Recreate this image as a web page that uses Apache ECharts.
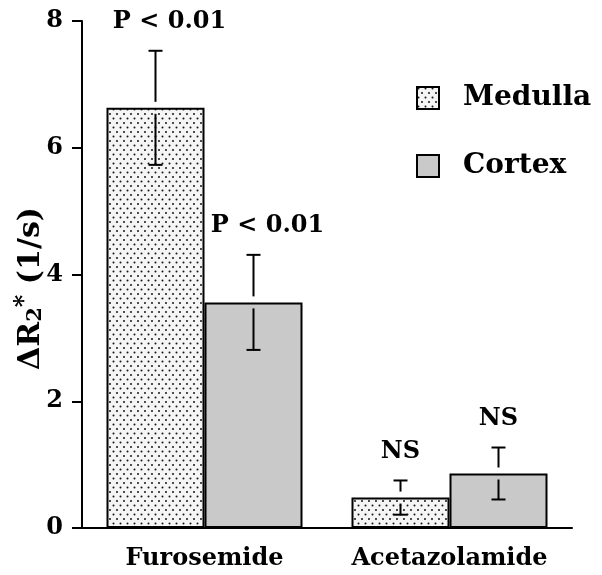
<!DOCTYPE html>
<html>
<head>
<meta charset="utf-8">
<script src="https://cdn.jsdelivr.net/npm/echarts@6/dist/echarts.min.js"></script>
<style>
  html, body { margin: 0; padding: 0; background: #fff; }
  #chart { width: 602px; height: 575px; }
</style>
</head>
<body>
<div id="chart"></div>
<script>
// 数据
var categories = ['Furosemide', 'Acetazolamide'];
var seriesNames = ['Medulla', 'Cortex'];
var medulla = [6.63, 0.48];
var medullaSd = [0.90, 0.27];
var cortex = [3.56, 0.86];
var cortexSd = [0.75, 0.41];
var medullaNote = ['P < 0.01', 'NS'];
var cortexNote = ['P < 0.01', 'NS'];
var yTicks = { min: 0, max: 8, interval: 2 };

var FONT = '"DejaVu Serif", "Liberation Serif", serif';
var BAR_W = 98;

/**
 * 点状填充
 */
function dotPattern() {
    var c = document.createElement('canvas');
    c.width = 7;
    c.height = 9;
    var ctx = c.getContext('2d');
    ctx.fillStyle = '#f5f5f5';
    ctx.fillRect(0, 0, 7, 9);
    ctx.fillStyle = '#151515';
    ctx.beginPath();
    ctx.arc(1.5, 1.5, 1.0, 0, Math.PI * 2);
    ctx.arc(5, 6, 1.0, 0, Math.PI * 2);
    ctx.fill();
    return c;
}

// 误差线 + 标注
var errData = [];
categories.forEach(function (c, i) {
    errData.push([i, 0, medulla[i], medullaSd[i], medullaNote[i]]);
    errData.push([i, 1, cortex[i], cortexSd[i], cortexNote[i]]);
});

function renderErr(params, api) {
    var idx = api.value(0);
    var side = api.value(1);
    var v = api.value(2);
    var sd = api.value(3);
    var note = errData[params.dataIndex][4];
    var cx = api.coord([idx, 0])[0] + (side === 0 ? -BAR_W / 2 : BAR_W / 2);
    var yTop = api.coord([idx, v + sd])[1];
    var yBar = api.coord([idx, v])[1];
    var yLow = api.coord([idx, v - sd])[1];
    var gap = 6, cap = 7;
    var ls = { stroke: '#000', lineWidth: 2 };
    var shift = note.length > 2 ? 14 : 0;
    return {
        type: 'group',
        children: [
            { type: 'line', shape: { x1: cx, y1: yTop, x2: cx, y2: yBar - gap }, style: ls },
            { type: 'line', shape: { x1: cx - cap, y1: yTop, x2: cx + cap, y2: yTop }, style: ls },
            { type: 'line', shape: { x1: cx, y1: yBar + gap, x2: cx, y2: yLow }, style: ls },
            { type: 'line', shape: { x1: cx - cap, y1: yLow, x2: cx + cap, y2: yLow }, style: ls },
            {
                type: 'text',
                style: {
                    text: note, x: cx + shift, y: yTop - 29,
                    align: 'center', verticalAlign: 'middle',
                    font: 'bold 24px ' + FONT, fill: '#000'
                }
            }
        ]
    };
}

var chart = echarts.init(document.getElementById('chart'));
var pattern = { image: dotPattern(), repeat: 'repeat' };

var option = {
    backgroundColor: '#fff',
    animation: false,
    grid: { left: 82, right: 30, top: 21, bottom: 47, containLabel: false, outerBoundsMode: 'none' },
    legend: {
        orient: 'vertical',
        left: 416,
        top: 84,
        padding: 0,
        itemWidth: 22,
        itemHeight: 22,
        itemGap: 40,
        icon: 'rect',
        data: seriesNames,
        itemStyle: { borderColor: '#000', borderWidth: 2 },
        textStyle: {
            fontFamily: FONT, fontWeight: 'bold', fontSize: 28,
            color: '#000', lineHeight: 22, padding: [0, 0, 0, 19]
        }
    },
    xAxis: {
        type: 'category',
        data: categories,
        axisLine: { lineStyle: { color: '#000', width: 2 } },
        axisTick: { alignWithLabel: true, length: 10, lineStyle: { color: '#000', width: 2 } },
        axisLabel: { interval: 0, color: '#000', fontFamily: FONT, fontWeight: 'bold', fontSize: 24, margin: 19 }
    },
    yAxis: {
        type: 'value',
        min: yTicks.min,
        max: yTicks.max,
        interval: yTicks.interval,
        name: '{a|ΔR}{b|2}{c|*}{a| (1/s)}',
        nameLocation: 'middle',
        nameRotate: 90,
        nameGap: 33,
        nameMoveOverlap: false,
        nameTextStyle: {
            color: '#000',
            padding: [0, 28, 0, 0],
            rich: {
                a: { fontFamily: FONT, fontWeight: 'bold', fontSize: 30, color: '#000' },
                b: { fontFamily: FONT, fontWeight: 'bold', fontSize: 21, color: '#000', padding: [10, 0, 0, 0] },
                c: { fontFamily: FONT, fontWeight: 'bold', fontSize: 24, color: '#000', padding: [0, 0, 12, 0] }
            }
        },
        splitLine: { show: false },
        axisLine: { show: true, lineStyle: { color: '#000', width: 2 } },
        axisTick: { show: true, length: 10, lineStyle: { color: '#000', width: 2 } },
        axisLabel: { color: '#000', fontFamily: FONT, fontWeight: 'bold', fontSize: 24, margin: 19 }
    },
    series: [{
        name: seriesNames[0],
        type: 'bar',
        barWidth: BAR_W,
        barGap: '0%',
        data: medulla,
        itemStyle: { color: pattern, borderColor: '#000', borderWidth: 2 }
    }, {
        name: seriesNames[1],
        type: 'bar',
        barWidth: BAR_W,
        barGap: '0%',
        data: cortex,
        itemStyle: { color: '#c9c9c9', borderColor: '#000', borderWidth: 2 }
    }, {
        type: 'custom',
        renderItem: renderErr,
        data: errData.map(function (d) { return d.slice(0, 4); }),
        z: 5,
        silent: true
    }]
};
chart.setOption(option);
</script>
</body>
</html>
